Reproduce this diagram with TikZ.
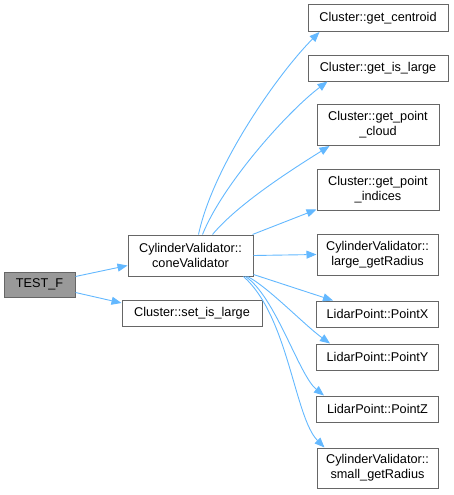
\documentclass[tikz,border=0pt]{standalone}
\usepackage{fontspec}
\setmainfont{Liberation Sans}
\usetikzlibrary{arrows.meta,calc}
\definecolor{edgec}{HTML}{63B8FF}
\definecolor{boxc}{HTML}{666666}
\definecolor{rootfill}{HTML}{999999}
\tikzset{
  fn/.style={draw=boxc, fill=white, line width=1pt, inner sep=0pt, align=center,
    font=\fontsize{12.7}{15}\selectfont, text=black},
  rootfn/.style={fn, fill=rootfill},
  call/.style={draw=edgec, line width=0.9pt, -{Triangle[length=10pt,width=8pt]}},
}
\begin{document}
\begin{tikzpicture}[x=1pt,y=-1pt]
\useasboundingbox (0,0) rectangle (454,495);
\node[rootfn, minimum width=71pt, minimum height=25pt] (tf) at (39.5,284.5) {TEST\_F};
\node[fn, minimum width=125pt, minimum height=41pt] (cv) at (190.5,255.5) {CylinderValidator::\\coneValidator};
\node[fn, minimum width=140pt, minimum height=26pt] (sil) at (192,313) {Cluster::set\_is\_large};
\node[fn, minimum width=140pt, minimum height=27pt] (gc) at (378,18) {Cluster::get\_centroid};
\node[fn, minimum width=140pt, minimum height=25pt] (gil) at (378,68.5) {Cluster::get\_is\_large};
\node[fn, minimum width=122pt, minimum height=41pt] (gpc) at (378,125) {Cluster::get\_point\\\_cloud};
\node[fn, minimum width=122pt, minimum height=41pt] (gpi) at (378,189.5) {Cluster::get\_point\\\_indices};
\node[fn, minimum width=121pt, minimum height=41pt] (lgr) at (377.5,254.5) {CylinderValidator::\\large\_getRadius};
\node[fn, minimum width=122pt, minimum height=26pt] (px) at (377.5,314) {LidarPoint::PointX};
\node[fn, minimum width=122pt, minimum height=26pt] (py) at (377.5,357) {LidarPoint::PointY};
\node[fn, minimum width=122pt, minimum height=26pt] (pz) at (377.5,409) {LidarPoint::PointZ};
\node[fn, minimum width=121pt, minimum height=40pt] (sgr) at (377.5,468) {CylinderValidator::\\small\_getRadius};

\draw[call] ($(tf.east)+(0,-8)$) -- ($(cv.west)+(0,10)$);
\draw[call] ($(tf.east)+(0,8)$) -- ($(sil.west)+(0,-10)$);

\draw[call] ($(cv.north)+(8,0)$) .. controls +(15,-70) and +(-40,40) .. ($(gc.south west)+(12,0)$);
\draw[call] ($(cv.north)+(12,0)$) .. controls +(20,-50) and +(-40,30) .. ($(gil.south west)+(20,0)$);
\draw[call] ($(cv.north)+(22,0)$) .. controls +(25,-30) and +(-40,25) .. ($(gpc.south west)+(13,0)$);
\draw[call] ($(cv.north east)+(-1,0)$) -- ($(gpi.south west)+(0,-1)$);
\draw[call] (cv.east) -- (lgr.west);
\draw[call] ($(cv.south east)+(0,-2)$) -- ($(px.north west)+(17,0)$);
\draw[call] ($(cv.south east)+(-6,0)$) .. controls +(20,10) and +(-25,-18) .. ($(py.north west)+(14,0)$);
\draw[call] ($(cv.south east)+(-8,0)$) .. controls +(30,20) and +(-25,-20) .. ($(pz.north west)+(8,0)$);
\draw[call] ($(cv.south east)+(-10,0)$) .. controls +(45,40) and +(-30,-30) .. ($(sgr.north west)+(8,0)$);
\end{tikzpicture}
\end{document}
